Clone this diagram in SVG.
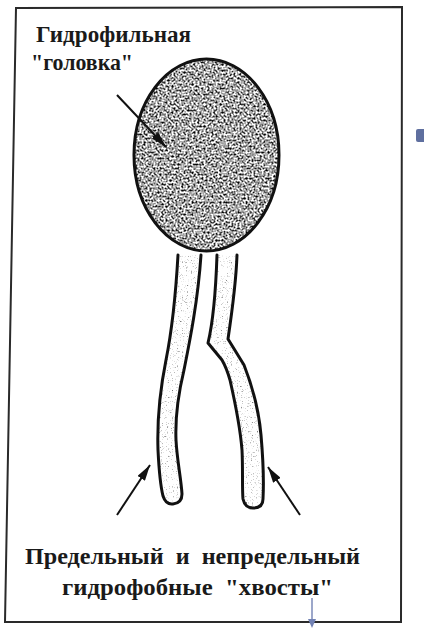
<svg xmlns="http://www.w3.org/2000/svg" width="424" height="630" viewBox="0 0 424 630">
  <style>
    .frame { fill: none; stroke: #2a2a2a; stroke-width: 2; }
    .label { font-family: "Liberation Serif", "Times New Roman", serif; font-weight: bold; fill: #1a1a1a; white-space: pre; }
    .outline { fill: none; stroke: #111; stroke-width: 3; stroke-linejoin: round; stroke-linecap: round; }
    .tail-fill { fill: #000; stroke: none; filter: url(#lightGrain); }
    .head-fill { fill: #000; stroke: none; filter: url(#darkGrain); }
    .arrow { fill: none; stroke: #111; stroke-width: 2; marker-end: url(#ah); }
    .note { stroke: #7282b4; stroke-width: 1.4; fill: none; }
  </style>
  <defs>
    <!-- grey stipple for the head, with some larger blotches -->
    <filter id="darkGrain" x="0" y="0" width="100%" height="100%" color-interpolation-filters="sRGB">
      <feTurbulence type="fractalNoise" baseFrequency="0.5" numOctaves="4" seed="7" result="noise"/>
      <feColorMatrix in="noise" type="matrix" values="2.5 0 0 0 -0.6  2.5 0 0 0 -0.6  2.5 0 0 0 -0.6  0 0 0 0 1" result="grey"/>
      <feComposite in="grey" in2="SourceGraphic" operator="in"/>
    </filter>
    <!-- faint stipple for the tails -->
    <filter id="lightGrain" x="0" y="0" width="100%" height="100%" color-interpolation-filters="sRGB">
      <feTurbulence type="fractalNoise" baseFrequency="0.8" numOctaves="2" seed="3" result="noise"/>
      <feColorMatrix in="noise" type="matrix" values="2 0 0 0 0.22  2 0 0 0 0.22  2 0 0 0 0.22  0 0 0 0 1" result="grey"/>
      <feComposite in="grey" in2="SourceGraphic" operator="in"/>
    </filter>
    <marker id="ah" viewBox="0 0 16 9" refX="16" refY="4.5" markerWidth="16" markerHeight="9" markerUnits="userSpaceOnUse" orient="auto">
      <path d="M0,0 L16,4.5 L0,9 z" fill="#111"/>
    </marker>
    <path id="tailSaturated" d="M178,255 C176,290 172,330 166,360 C160,390 157,420 158,450 C159,470 161,488 163,496 Q166,505 173,504 Q182,503 182,494 C181,478 177,460 176,440 C175,415 178,395 184,370 C190,340 198,300 201,255"/>
    <path id="tailUnsaturated" d="M217,255 C216,285 214,318 208,343 L222,360 C226,367 228,373 230,380 C235,402 240,425 242,450 C243,470 242,488 243,499 Q245,508 253,508 Q263,508 263,499 C264,480 263,458 261,435 C259,412 253,388 244,365 L228,339 C232,312 236,285 237,255"/>
  </defs>

  <!-- outer frame -->
  <polygon class="frame" points="16,8 402,7 401,622 5,622"/>
  <rect x="416" y="129" width="10" height="13" rx="2" fill="#5f6f9f"/>

  <g id="tail-saturated">
    <use href="#tailSaturated" class="tail-fill"/>
    <use href="#tailSaturated" class="outline"/>
  </g>

  <g id="tail-unsaturated">
    <use href="#tailUnsaturated" class="tail-fill"/>
    <use href="#tailUnsaturated" class="outline"/>
  </g>

  <g id="head">
    <ellipse class="head-fill" cx="206.5" cy="155" rx="72.5" ry="96"/>
    <ellipse cx="206.5" cy="155" rx="72.5" ry="96" fill="none" stroke="#111" stroke-width="3"/>
  </g>

  <g id="label-head">
    <text class="label" x="36" y="42" font-size="24" textLength="155" lengthAdjust="spacingAndGlyphs">Гидрофильная</text>
    <text class="label" x="31" y="70" font-size="24" textLength="102" lengthAdjust="spacingAndGlyphs">"головка"</text>
  </g>

  <g id="label-tails">
    <text class="label" x="25" y="564" font-size="24" textLength="335" lengthAdjust="spacingAndGlyphs">Предельный  и  непредельный</text>
    <text class="label" x="62" y="595" font-size="24" textLength="271" lengthAdjust="spacingAndGlyphs">гидрофобные  "хвосты"</text>
  </g>

  <g id="connectors">
    <line class="arrow" x1="117" y1="95" x2="166" y2="147"/>
    <line class="arrow" x1="117" y1="515" x2="150" y2="465"/>
    <line class="arrow" x1="300" y1="515" x2="268" y2="467"/>
    <line class="note" x1="312" y1="598" x2="312" y2="624"/>
    <path d="M308,619 L312,628 L316,619 Z" fill="#7282b4"/>
  </g>
</svg>
